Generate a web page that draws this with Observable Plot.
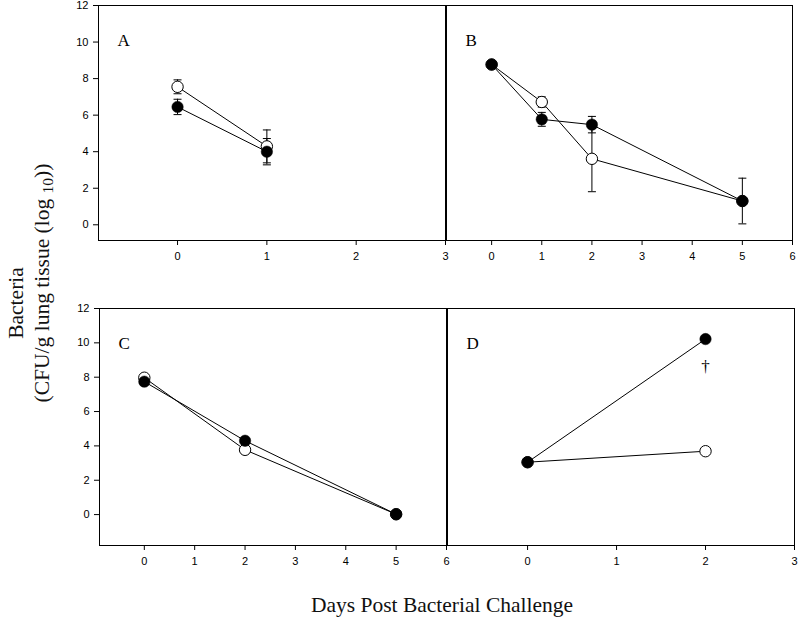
<!DOCTYPE html>
<html>
<head>
<meta charset="utf-8">
<script src="https://cdn.jsdelivr.net/npm/d3@7"></script>
<script src="https://cdn.jsdelivr.net/npm/@observablehq/plot@0.6"></script>
<style>
  html, body { margin: 0; padding: 0; background: white; }
  #chart { position: relative; width: 800px; height: 622px; overflow: hidden; font-family: "Liberation Serif", "Times New Roman", serif; }
  .panel { position: absolute; }
  .title { position: absolute; white-space: nowrap; font-family: "Liberation Serif", "Times New Roman", serif; color: #111; }
  .rot { transform: translate(-50%, -50%) rotate(-90deg); }
  .ctr { transform: translate(-50%, -50%); }
  sub { font-size: 0.72em; vertical-align: -0.3em; line-height: 0; }
</style>
</head>
<body>
<div id="chart"></div>
<script>
// ---------- data ----------
const yTicks = [0, 2, 4, 6, 8, 10, 12];

// Panel A
const daysA = [0, 1];
const openA = [7.55, 4.29];
const openErrA = [0.38, 0.9];
const filledA = [6.45, 4.0];
const filledErrA = [0.42, 0.72];
const xTicksA = [0, 1, 2, 3];

// Panel B
const daysB = [0, 1, 2, 5];
const openB = [8.77, 6.72, 3.61, 1.3];
const openErrB = [0, 0.28, 1.8, 0];
const filledB = [8.77, 5.77, 5.48, 1.3];
const filledErrB = [0, 0.38, 0.45, 1.25];
const xTicksB = [0, 1, 2, 3, 4, 5, 6];

// Panel C
const daysC = [0, 2, 5];
const openC = [7.97, 3.77, 0.02];
const filledC = [7.74, 4.3, 0.02];
const xTicksC = [0, 1, 2, 3, 4, 5, 6];

// Panel D
const daysD = [0, 2];
const openD = [3.05, 3.69];
const filledD = [3.05, 10.22];
const xTicksD = [0, 1, 2, 3];
const daggerDay = [2];
const daggerValue = [8.6];
const daggerText = ["\u2020"];

const panelLabels = ["A", "B", "C", "D"];

// ---------- helpers ----------
function rows(days, values, errs, group) {
  return days.map((d, i) => ({day: d, value: values[i], err: errs ? errs[i] : 0, group}));
}

const capSymbol = {
  draw(context, size) {
    const w = Math.sqrt(size / Math.PI);
    context.moveTo(-w, 0);
    context.lineTo(w, 0);
  }
};

function panel(cfg) {
  const openRows = rows(cfg.days, cfg.open, cfg.openErr, "open");
  const filledRows = rows(cfg.days, cfg.filled, cfg.filledErr, "filled");
  const all = openRows.concat(filledRows);
  const errRows = all.filter(d => d.err > 0);
  const marks = [
    Plot.ruleX(errRows, {x: "day", y1: d => d.value - d.err, y2: d => d.value + d.err, stroke: "black", strokeWidth: 1}),
    Plot.dot(errRows, {x: "day", y: d => d.value + d.err, symbol: capSymbol, r: 4, fill: "none", stroke: "black", strokeWidth: 1}),
    Plot.dot(errRows, {x: "day", y: d => d.value - d.err, symbol: capSymbol, r: 4, fill: "none", stroke: "black", strokeWidth: 1}),
    Plot.line(all, {x: "day", y: "value", z: "group", stroke: "black", strokeWidth: 1}),
    Plot.dot(openRows, {x: "day", y: "value", r: 5.7, fill: "white", stroke: "black", strokeWidth: 1}),
    Plot.dot(filledRows, {x: "day", y: "value", r: 5.7, fill: "black", stroke: "black", strokeWidth: 0.5}),
    Plot.frame({stroke: "black", strokeWidth: 1}),
    Plot.text([cfg.label], {frameAnchor: "top-left", dx: 19, dy: 28, text: d => d, textAnchor: "start",
      fontFamily: "Liberation Serif, Times New Roman, serif", fontSize: 17, fill: "black"})
  ];
  if (cfg.extra) marks.push(...cfg.extra);
  const svg = Plot.plot({
    width: cfg.width,
    height: cfg.height,
    marginLeft: cfg.ml,
    marginRight: cfg.mr,
    marginTop: cfg.mt,
    marginBottom: cfg.mb,
    style: {background: "transparent", overflow: "visible", fontFamily: "Liberation Sans, Arial, sans-serif", fontSize: "11px", color: "black"},
    x: {domain: cfg.xDomain, ticks: cfg.xTicks, tickSize: 5, tickPadding: 7, label: null, tickFormat: d => String(d)},
    y: {domain: cfg.yDomain, ticks: yTicks, tickSize: 5, tickPadding: 5, label: null, axis: cfg.showY ? "left" : null, tickFormat: d => String(d)},
    marks
  });
  svg.classList.add("panel");
  svg.style.left = cfg.left + "px";
  svg.style.top = cfg.top + "px";
  return svg;
}

const chart = document.getElementById("chart");

chart.appendChild(panel({
  label: panelLabels[0], days: daysA, open: openA, openErr: openErrA, filled: filledA, filledErr: filledErrA,
  xDomain: [-0.885, 3], yDomain: [-0.86, 12], xTicks: xTicksA, showY: true,
  left: 0, top: 0, width: 460, height: 262, ml: 98, mr: 15, mt: 5, mb: 22
}));
chart.appendChild(panel({
  label: panelLabels[1], days: daysB, open: openB, openErr: openErrB, filled: filledB, filledErr: filledErrB,
  xDomain: [-0.9, 6], yDomain: [-0.86, 12], xTicks: xTicksB, showY: false,
  left: 431, top: 0, width: 369, height: 262, ml: 15, mr: 8, mt: 5, mb: 22
}));
chart.appendChild(panel({
  label: panelLabels[2], days: daysC, open: openC, openErr: null, filled: filledC, filledErr: null,
  xDomain: [-0.89, 6], yDomain: [-1.8, 12], xTicks: xTicksC, showY: true,
  left: 0, top: 290, width: 460, height: 275, ml: 99, mr: 14, mt: 18, mb: 20
}));
chart.appendChild(panel({
  label: panelLabels[3], days: daysD, open: openD, openErr: null, filled: filledD, filledErr: null,
  xDomain: [-0.9, 3], yDomain: [-1.8, 12], xTicks: xTicksD, showY: false,
  left: 432, top: 290, width: 368, height: 275, ml: 15, mr: 6, mt: 18, mb: 20,
  extra: [Plot.text(daggerText, {x: (d, i) => daggerDay[i], y: (d, i) => daggerValue[i], text: d => d,
    fontFamily: "Liberation Serif, Times New Roman, serif", fontSize: 17, fill: "black"})]
}));

// axis titles
const t1 = document.createElement("div");
t1.className = "title rot";
t1.style.cssText += "left:16px;top:303px;font-size:21.5px;";
t1.textContent = "Bacteria";
chart.appendChild(t1);

const t2 = document.createElement("div");
t2.className = "title rot";
t2.style.cssText += "left:42px;top:283px;font-size:21.5px;";
t2.innerHTML = "(CFU/g lung tissue (log <sub>10</sub>))";
chart.appendChild(t2);

const t3 = document.createElement("div");
t3.className = "title ctr";
t3.style.cssText += "left:442px;top:605px;font-size:21.5px;";
t3.textContent = "Days Post Bacterial Challenge";
chart.appendChild(t3);
</script>
</body>
</html>
